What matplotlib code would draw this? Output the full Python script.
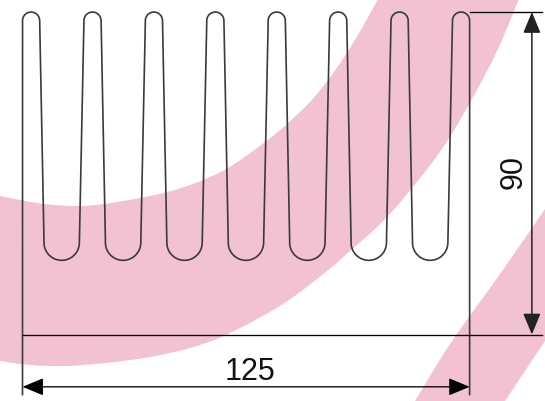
import numpy as np
import matplotlib.pyplot as plt
from matplotlib.path import Path
from matplotlib.patches import PathPatch

plt.rcParams['font.family'] = ['Liberation Sans', 'DejaVu Sans']

# heat sink profile, in mm
width = 125
height = 90
root_height = 20.7
fin_centers = [2.4, 19.57, 36.74, 53.91, 71.08, 88.25, 105.42, 122.6]
valley_centers = [10.95, 28.12, 45.29, 62.46, 79.63, 96.8, 113.97]
tip_radius = 2.4
valley_radius = 4.95

# pink bands, in pixels
band1_top = [(-5, 196), (0, 197), (45, 205), (90, 206.5), (150, 197), (190, 186), (228, 169),
             (265, 143), (287, 125), (310, 103), (328, 81), (345, 57), (362, 29), (378, 0), (385, -12)]
band1_bottom = [(525, -12), (519, 0), (498, 50), (472, 100), (442, 150), (403, 200), (377, 228),
                (350, 252), (327, 272), (283, 305), (228, 335), (190, 349), (150, 358), (110, 363.5),
                (67, 367), (30, 366), (0, 362), (-5, 361)]
band2_left = [(550, 203), (545, 210), (500, 275), (450, 345), (415, 402), (410, 410)]
band2_right = [(500, 410), (505, 402), (545, 342), (550, 335)]

scale = 3.583  # pixels per mm
x0, y0 = 22.5, 335.5


def px(points):
    p = np.array(points, dtype=float)
    return np.column_stack([(p[:, 0] - x0) / 3.577, (y0 - p[:, 1]) / scale])


def smooth_edge(points):
    # catmull-rom through the read points, as bezier segments
    p = px(points)
    verts, codes = [p[0]], [Path.LINETO]
    for i in range(len(p) - 1):
        before = p[max(i - 1, 0)]
        after = p[min(i + 2, len(p) - 1)]
        verts += [p[i] + (p[i + 1] - before) / 6, p[i + 1] - (after - p[i]) / 6, p[i + 1]]
        codes += [Path.CURVE4] * 3
    return verts, codes


def band(*edges):
    verts, codes = [], []
    for e in edges:
        v, c = smooth_edge(e)
        verts += v
        codes += c
    codes[0] = Path.MOVETO
    verts.append(verts[0])
    codes.append(Path.CLOSEPOLY)
    return Path(verts, codes)


def arc(cx, cy, r, start, stop):
    a = np.radians(np.linspace(start, stop, 30))
    return np.column_stack([cx + r * np.cos(a), cy + r * np.sin(a)])


fig = plt.figure(figsize=(5.45, 4.02), dpi=100)
ax = fig.add_axes([0, 0, 1, 1])
ax.set_xlim(-x0 / 3.577, (545 - x0) / 3.577)
ax.set_ylim((y0 - 402) / scale, y0 / scale)
ax.axis('off')

pink = '#f2c1d4'
ax.add_patch(PathPatch(band(band1_top, band1_bottom), fc=pink, ec='none'))
ax.add_patch(PathPatch(band(band2_left, band2_right), fc=pink, ec='none'))

# outline of the fins
tip_y = height - tip_radius
valley_y = root_height + valley_radius
pieces = [np.array([[0, -17]])]
for i, c in enumerate(fin_centers):
    pieces.append(arc(c, tip_y, tip_radius, 180, 0))
    if i < len(valley_centers):
        pieces.append(arc(valley_centers[i], valley_y, valley_radius, 180, 360))
pieces.append(np.array([[width, -17]]))
outline = np.vstack(pieces)
ax.plot(outline[:, 0], outline[:, 1], color='#3a3a3a', lw=1.2, solid_capstyle='butt')

# dimension lines
ax.plot([0, 145.2], [0, 0], color='black', lw=0.95)
ax.plot([width, 145.2], [height, height], color='black', lw=0.95)

arrow = dict(arrowstyle='<|-|>,head_length=1.3,head_width=0.54', color='black', lw=0.95,
             shrinkA=0, shrinkB=0, mutation_scale=10)
ax.annotate('', xy=(0, -14.6), xytext=(width, -14.6), arrowprops=arrow)
ax.annotate('', xy=(142.4, 0), xytext=(142.4, height), arrowprops=dict(arrow, color='#222222', lw=1.1))

ax.text(63.7, -9.2, '125', fontsize=22, ha='center', va='center_baseline', color='#111111')
ax.text(137.2, 45.5, '90', fontsize=22, rotation=90, ha='center', va='center', color='#111111')

fig.savefig('out.png', dpi=100)
